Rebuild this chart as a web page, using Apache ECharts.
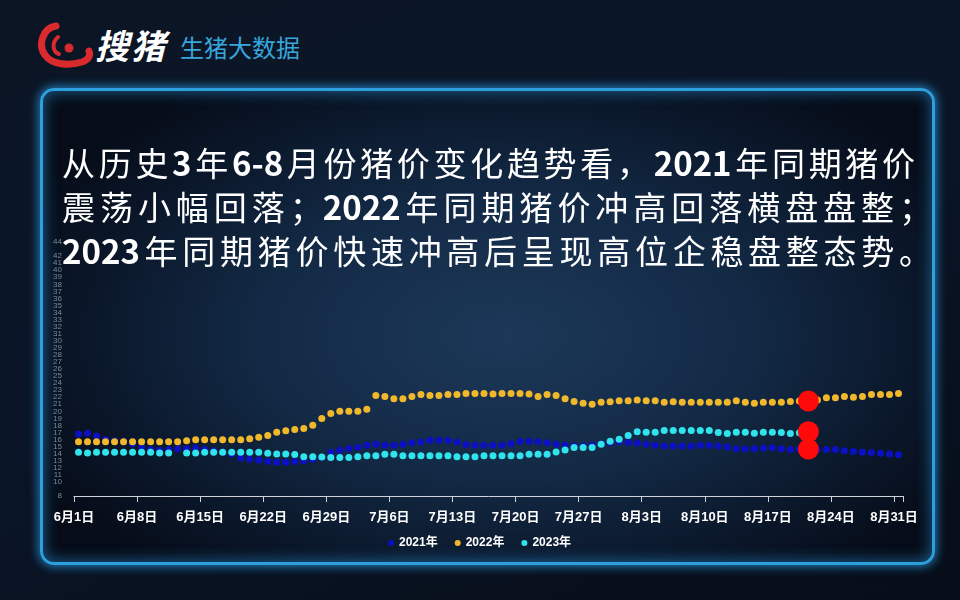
<!DOCTYPE html>
<html>
<head>
<meta charset="utf-8">
<title>生猪大数据</title>
<script src="https://cdn.jsdelivr.net/npm/echarts/dist/echarts.min.js"></script>
<style>
  html, body { margin: 0; padding: 0; }
  body {
    width: 960px; height: 600px; overflow: hidden; position: relative;
    background: linear-gradient(160deg, #0b1524 0%, #0a1628 45%, #070d18 100%);
    font-family: "Noto Sans CJK SC", "Noto Sans", sans-serif;
  }
  .panel {
    position: absolute; left: 40px; top: 88px; width: 889px; height: 471px;
    border: 3px solid #2d9fdc; border-radius: 14px;
    box-shadow: 0 0 10px 2px rgba(40,150,220,.75), inset 0 0 14px 2px rgba(40,140,210,.55);
    background: radial-gradient(ellipse 60% 65% at 52% 52%, #1c3858 0%, #132a46 45%, #0a1628 80%, #060c18 100%);
  }
  .logo { position: absolute; left: 36px; top: 18px; }
  .brand { position: absolute; left: 95px; top: 20px; color: #fff; font-size: 34px; font-weight: bold; font-style: italic; letter-spacing: 2px; }
  .sub { position: absolute; left: 180px; top: 29px; color: #38a6dd; font-size: 24px; }
  #main { position: absolute; left: 0; top: 0; width: 960px; height: 600px; }
  .words { position: absolute; left: 62px; top: 140px; color: #fff; font-size: 33px; line-height: 44px; pointer-events: none; }
  .words div { text-align: justify; text-align-last: justify; white-space: nowrap; }
  .words b { font-weight: bold; }
</style>
</head>
<body>
<div class="panel"></div>
<svg class="logo" width="58" height="52" viewBox="0 0 58 52">
  <path d="M20 8 C6 10 2 28 9 37 C16 47 33 48 46 44 C52 42 55 38 53 33" stroke="#d92a2e" stroke-width="7" fill="none" stroke-linecap="round"/>
  <path d="M22 19 C15 25 17 34 23 36" stroke="#d92a2e" stroke-width="4" fill="none" stroke-linecap="round"/>
  <circle cx="33" cy="30" r="4.5" fill="#d92a2e"/>
</svg>
<div class="brand">搜猪</div>
<div class="sub">生猪大数据</div>
<div id="main"></div>
<div class="words">
  <div style="width:853px">从历史<b>3</b>年<b>6-8</b>月份猪价变化趋势看，<b>2021</b>年同期猪价</div>
  <div style="width:870px">震荡小幅回落；<b>2022</b>年同期猪价冲高回落横盘盘整；</div>
  <div style="width:870px"><b>2023</b>年同期猪价快速冲高后呈现高位企稳盘整态势。</div>
</div>
<script>
// 6月1日 ~ 8月31日
const months = [6, 7, 8];
const monthDays = [30, 31, 31];
const dates = [];
months.forEach((m, k) => {
  for (let d = 1; d <= monthDays[k]; d++) dates.push(m + '月' + d + '日');
});

const seriesNames = ['2021年', '2022年', '2023年'];
const seriesColors = ['#0c10c4', '#f2b82c', '#30e4ee'];

// 2021年
const p2021 = [
  16.8, 16.9, 16.5, 16.0, 15.8, 15.7, 15.4, 14.9, 14.6, 14.5,
  14.6, 14.7, 14.7, 14.8, 14.6, 14.4, 14.2, 14.0, 13.4, 13.2,
  13.1, 12.9, 12.8, 12.8, 12.9, 13.0, 13.2, 13.5, 14.2, 14.5,
  14.75, 14.9, 15.2, 15.35, 15.2, 15.2, 15.35, 15.55, 15.65, 15.9,
  15.9, 15.9, 15.65, 15.3, 15.2, 15.2, 15.2, 15.2, 15.4, 15.75,
  15.75, 15.7, 15.55, 15.35, 15.2, 15.1, 15.1, 15.2, 15.4, 15.6,
  15.7, 15.6, 15.5, 15.35, 15.2, 15.1, 15.1, 15.1, 15.1, 15.2,
  15.2, 15.1, 14.95, 14.7, 14.65, 14.7, 14.8, 14.85, 14.7, 14.6,
  14.65, 14.65, 14.6, 14.6, 14.6, 14.4, 14.3, 14.2, 14.15, 14.05,
  13.95, 13.85
];
// 2022年
const p2022 = [
  15.7, 15.7, 15.7, 15.7, 15.7, 15.7, 15.7, 15.7, 15.7, 15.7,
  15.7, 15.7, 15.83, 15.97, 15.97, 15.98, 15.98, 15.98, 15.98, 16.12,
  16.31, 16.59, 17.02, 17.25, 17.44, 17.56, 18.03, 18.97, 19.71, 20.0,
  20.0, 20.0, 20.28, 22.26, 22.12, 21.79, 21.79, 22.12, 22.4, 22.26,
  22.26, 22.4, 22.4, 22.54, 22.54, 22.54, 22.45, 22.54, 22.54, 22.54,
  22.45, 22.12, 22.4, 22.26, 21.79, 21.38, 21.13, 20.99, 21.27, 21.36,
  21.5, 21.5, 21.62, 21.5, 21.5, 21.27, 21.36, 21.27, 21.27, 21.27,
  21.27, 21.27, 21.27, 21.5, 21.27, 21.13, 21.27, 21.27, 21.27, 21.41,
  21.45, 21.47, 21.6, 21.93, 21.93, 22.12, 21.98, 22.12, 22.4, 22.4,
  22.4, 22.54
];
// 2023年 (到8月21日)
const p2023 = [
  14.19, 14.09, 14.19, 14.19, 14.19, 14.19, 14.19, 14.19, 14.19, 14.09,
  14.09, null, 14.09, 14.09, 14.19, 14.19, 14.19, 14.19, 14.19, 14.19,
  14.19, 14.05, 13.95, 13.95, 13.87, 13.55, 13.57, 13.52, 13.45, 13.45,
  13.47, 13.57, 13.71, 13.71, 13.9, 13.9, 13.71, 13.71, 13.71, 13.71,
  13.71, 13.71, 13.57, 13.57, 13.57, 13.71, 13.71, 13.71, 13.71, 13.71,
  13.9, 13.9, 13.9, 14.23, 14.52, 14.87, 14.87, 14.87, 15.35, 15.77,
  16.03, 16.58, 17.11, 17.05, 17.05, 17.28, 17.28, 17.28, 17.28, 17.28,
  17.28, 17.0, 16.85, 17.02, 17.02, 16.9, 17.02, 17.02, 17.0, 16.85,
  16.95, 17.11
];
const allSeries = [p2021, p2022, p2023];

// 红点标记的日期 (8月21日)
const markIndex = 81;

const yMin = 8, yMax = 44;

const myChart = echarts.init(document.getElementById('main'));

const option = {
  backgroundColor: 'transparent',
  animation: false,
  grid: { left: 74, right: 57, top: 242, bottom: 104 },
  legend: {
    data: seriesNames,
    left: 383, top: 532,
    icon: 'circle', itemWidth: 6, itemHeight: 6, itemGap: 17,
    textStyle: { color: '#ffffff', fontSize: 12, fontWeight: 'bold', fontFamily: 'Liberation Sans, Noto Sans CJK SC' }
  },
  xAxis: {
    type: 'category',
    data: dates,
    boundaryGap: true,
    axisLine: { show: true, lineStyle: { color: '#d0d4da', width: 1 } },
    axisTick: { show: true, interval: 6, length: 6, lineStyle: { color: '#d0d4da', width: 1 } },
    axisLabel: {
      interval: 6, color: '#ffffff', fontSize: 13, fontWeight: 'bold', margin: 15,
      padding: [0, 9, 0, 0], fontFamily: 'Liberation Sans, Noto Sans CJK SC'
    },
    splitLine: { show: false }
  },
  yAxis: {
    type: 'value',
    min: yMin, max: yMax, interval: 1,
    axisLine: { show: false },
    axisTick: { show: false },
    splitLine: { show: false },
    axisLabel: {
      color: '#7d8a98', fontSize: 8, lineHeight: 6, margin: 12,
      showMinLabel: true, showMaxLabel: true, hideOverlap: false
    }
  },
  series: allSeries.map((arr, k) => ({
    name: seriesNames[k],
    type: 'scatter',
    data: arr,
    symbol: 'circle',
    symbolSize: 7,
    itemStyle: { color: seriesColors[k], opacity: 1 },
    emphasis: { disabled: true },
    markPoint: {
      symbol: 'circle',
      symbolSize: 21,
      itemStyle: { color: '#ff0a0a' },
      label: { show: false },
      data: [{ coord: [markIndex, arr[markIndex]] }]
    }
  }))
};

myChart.setOption(option);
</script>
</body>
</html>
